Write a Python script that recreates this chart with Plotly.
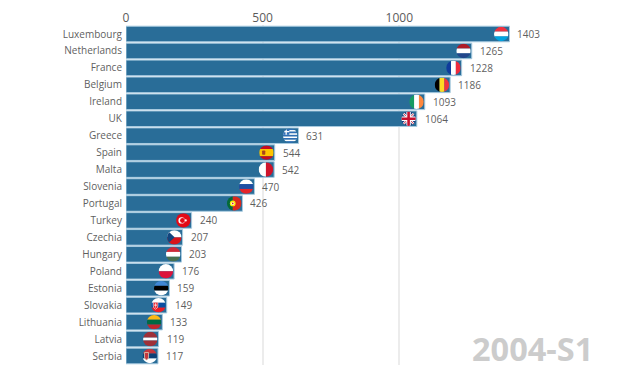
import base64
import plotly.graph_objects as go

countries = ["Luxembourg", "Netherlands", "France", "Belgium", "Ireland", "UK", "Greece", "Spain", "Malta", "Slovenia",
             "Portugal", "Turkey", "Czechia", "Hungary", "Poland", "Estonia", "Slovakia", "Lithuania", "Latvia", "Serbia"]
values = [1403, 1265, 1228, 1186, 1093, 1064, 631, 544, 542, 470, 426, 240, 207, 203, 176, 159, 149, 133, 119, 117]
period = "2004-S1"


def h(*cols, weights=None):
    weights = weights or [1] * len(cols)
    tot, y, out = sum(weights), 0, ""
    for c, w in zip(cols, weights):
        hh = 100 * w / tot
        out += f'<rect x="0" y="{y}" width="100" height="{hh + .5}" fill="{c}"/>'
        y += hh
    return out


def v(*cols, weights=None):
    weights = weights or [1] * len(cols)
    tot, x, out = sum(weights), 0, ""
    for c, w in zip(cols, weights):
        ww = 100 * w / tot
        out += f'<rect x="{x}" y="0" width="{ww + .5}" height="100" fill="{c}"/>'
        x += ww
    return out


flags = {
    "Luxembourg": h("#ef3340", "#ffffff", "#00a3e0"),
    "Netherlands": h("#ae1c28", "#ffffff", "#21468b"),
    "France": v("#0f3b9c", "#ffffff", "#ef2b3d"),
    "Belgium": v("#000000", "#fdda24", "#ef3340"),
    "Ireland": v("#169b62", "#ffffff", "#ff883e"),
    "UK": '<rect width="100" height="100" fill="#1f3a7a"/>'
          '<path d="M0 0L100 100M100 0L0 100" stroke="#fff" stroke-width="16"/>'
          '<path d="M0 0L100 100M100 0L0 100" stroke="#c8102e" stroke-width="6"/>'
          '<path d="M50 0V100M0 50H100" stroke="#fff" stroke-width="30"/>'
          '<path d="M50 0V100M0 50H100" stroke="#c8102e" stroke-width="18"/>',
    "Greece": h("#2f6fb5", "#ffffff", "#2f6fb5", "#ffffff", "#2f6fb5", "#ffffff", "#2f6fb5", "#ffffff", "#2f6fb5")
              + '<rect width="44" height="44" fill="#2f6fb5"/><path d="M22 0V44M0 22H44" stroke="#fff" stroke-width="9"/>',
    "Spain": h("#c60b1e", "#ffc400", "#c60b1e", weights=[1, 2, 1])
             + '<rect x="20" y="36" width="22" height="28" rx="5" fill="#a8431c"/>',
    "Malta": v("#ffffff", "#cf142b"),
    "Slovenia": h("#ffffff", "#1f4fa3", "#e3252b"),
    "Portugal": v("#046a38", "#da291c", weights=[2, 3])
                + '<circle cx="40" cy="50" r="20" fill="#ffe900"/><circle cx="40" cy="50" r="11" fill="#fff"/>'
                  '<circle cx="40" cy="50" r="6" fill="#da291c"/>',
    "Turkey": '<rect width="100" height="100" fill="#e30a17"/><circle cx="38" cy="50" r="22" fill="#fff"/>'
              '<circle cx="44" cy="50" r="17" fill="#e30a17"/><circle cx="66" cy="50" r="8" fill="#fff"/>',
    "Czechia": h("#ffffff", "#d7141a") + '<path d="M0 0L52 50L0 100Z" fill="#11457e"/>',
    "Hungary": h("#ce2939", "#ffffff", "#477050"),
    "Poland": h("#ffffff", "#dc143c"),
    "Estonia": h("#3f87d6", "#000000", "#ffffff"),
    "Slovakia": h("#ffffff", "#0b4ea2", "#ee1c25")
                + '<path d="M14 30H46V55Q46 72 30 78Q14 72 14 55Z" fill="#ee1c25" stroke="#fff" stroke-width="4"/>'
                  '<path d="M30 36V68M22 44H38M20 52H40" stroke="#fff" stroke-width="4"/>',
    "Lithuania": h("#fdb913", "#006a44", "#c1272d"),
    "Latvia": h("#9e3039", "#ffffff", "#9e3039", weights=[2, 1, 2]),
    "Serbia": h("#c6363c", "#0c4076", "#ffffff")
              + '<path d="M14 26H42V58Q42 72 28 78Q14 72 14 58Z" fill="#c6363c" stroke="#e8dcc0" stroke-width="5"/>',
}


def flag_uri(body):
    svg = ('<svg xmlns="http://www.w3.org/2000/svg" width="100" height="100" viewBox="0 0 100 100">'
           '<defs><clipPath id="c"><circle cx="50" cy="50" r="50"/></clipPath></defs>'
           f'<g clip-path="url(#c)">{body}</g></svg>')
    return "data:image/svg+xml;base64," + base64.b64encode(svg.encode()).decode()


W, H = 632, 362
L, T = 118, 17
X_MAX = 1500
PX_PER_UNIT = 0.2735
PLOT_W = X_MAX * PX_PER_UNIT
PLOT_H = 340
FLAG_PX = 14.5

fig = go.Figure(go.Bar(
    x=values, y=countries, orientation="h", width=0.92,
    marker=dict(color="#296d98", line=dict(color="#a9cbe0", width=1)),
    hoverinfo="skip",
))

annotations = [dict(x=val, y=c, text=str(val), xref="x", yref="y", xanchor="left", yanchor="middle",
                    xshift=6, showarrow=False, font=dict(family="Open Sans", size=10, color="#5f5f5f"))
               for c, val in zip(countries, values)]
annotations.append(dict(x=1, y=0, xref="paper", yref="paper", xanchor="right", yanchor="bottom",
                        text=f"<b>{period}</b>", showarrow=False, xshift=59, yshift=-8,
                        font=dict(family="Open Sans", size=32.5, color="#cccccc")))

images = [dict(source=flag_uri(flags[c]), xref="x", yref="y", x=val - 1 / PX_PER_UNIT, y=c,
               sizex=FLAG_PX / PX_PER_UNIT, sizey=FLAG_PX / 17, xanchor="right", yanchor="middle",
               sizing="stretch", layer="above")
          for c, val in zip(countries, values)]

fig.update_layout(
    width=W, height=H, autosize=False,
    margin=dict(l=L, t=T, r=W - L - PLOT_W, b=H - T - PLOT_H, pad=0, autoexpand=False),
    paper_bgcolor="white", plot_bgcolor="white", showlegend=False,
    font=dict(family="Open Sans", color="#5f5f5f"),
    annotations=annotations, images=images,
    xaxis=dict(side="top", range=[0, X_MAX], tickvals=[0, 500, 1000], ticks="", showline=False, zeroline=False,
               automargin=False, showgrid=True, gridcolor="#ececec", gridwidth=1.5,
               tickfont=dict(size=12, color="#5a5a5a")),
    yaxis=dict(autorange="reversed", type="category", categoryorder="array", categoryarray=countries,
               automargin=False, showgrid=False, zeroline=False, showline=False, ticks="outside", ticklen=1,
               tickcolor="rgba(0,0,0,0)", tickfont=dict(size=10, color="#5f5f5f")),
)

fig.write_html("out.html", config=dict(displayModeBar=False))
